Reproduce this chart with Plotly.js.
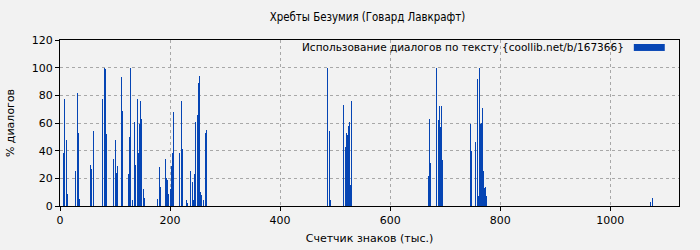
<!DOCTYPE html>
<html>
<head>
<meta charset="utf-8">
<script src="https://cdn.plot.ly/plotly-3.0.1.min.js"></script>
<style>html,body{margin:0;padding:0;background:#f2f2f2;}#chart{width:700px;height:250px;}</style>
</head>
<body>
<div id="chart"></div>
<script>
// Character counter positions (thousands of characters)
const positions = [5.5,7.3,9,11,12.7,14.5, 29,31,33,34.5,36, 56,58,60, 78,80,82,84,
  94.5,96.4,98,100,102,103.6, 111,113, 123.6,125.5,127,129,131,
  136,138,140,142,143.6,145.5,147,149,151,153, 178,180,182,
  189,191,193,195,196.4, 200,202,204,205.5, 218,220,222, 229,231,
  238,240,242,244,245.5,247,249,251,253,254.5,256,258,260, 263.6,265.5,
  485.5,487,489,491, 516,518,520,522,524,525.5,527.5,529,
  669,671,673, 683.6,685,687,689,691,693,694.5,
  745.5,747, 754.5,756,758,760,762,764,765.5,767,769,771,773,774.5,776, 1074,1076];
// Dialogue share (%)
const dialogPct = [38,77,27,48,41,9, 25,82,53,10,5, 30,27,54, 77,100,99,52,
  24,34,20,48,24,29, 93,69, 23,46,50,100,4,
  61,30,77,38,59,72,76,63,12,6, 5,28,14,
  64,34,20,19,9, 12,29,38,68, 38,76,41, 4,2,
  25,17,4,23,12,61,66,89,94,10,5,8,4, 53,55,
  25,100,54,4, 73,43,53,51,58,61,15,76,
  22,63,31, 4,100,62,72,57,72,33,
  59,40, 7,46,92,7,100,59,60,71,25,13,14,7,4, 3,6];
const seriesName = 'Использование диалогов по тексту {coollib.net/b/167366}';
const chartTitle = 'Хребты Безумия (Говард Лавкрафт)';
const xTitle = 'Счетчик знаков (тыс.)';
const yTitle = '% диалогов';

const font = {family: 'DejaVu Sans, sans-serif', size: 11, color: '#000'};
const titleFont = {family: 'DejaVu Sans Condensed, DejaVu Sans, sans-serif', size: 11.4, color: '#000'};
const legendFont = {family: 'DejaVu Sans, sans-serif', size: 10.5, color: '#000'};
const barColor = '#0645b4';

const trace = {
  type: 'bar', x: positions, y: dialogPct, name: seriesName,
  width: 1.8, marker: {color: barColor, line: {width: 0}}, showlegend: false
};

const axisCommon = {
  showline: true, linecolor: '#000', linewidth: 1, mirror: true,
  ticks: 'outside', ticklen: 4, tickcolor: '#000',
  showgrid: true, gridcolor: '#a8a8a8', griddash: '3px,3px', gridwidth: 1,
  zeroline: false, tickfont: font
};

const layout = {
  width: 700, height: 250,
  paper_bgcolor: '#f2f2f2', plot_bgcolor: '#f2f2f2',
  margin: {l: 60, r: 21, t: 40, b: 44},
  font: font,
  title: {text: chartTitle, font: titleFont, x: 0.525, xanchor: 'center', y: 0.93, yanchor: 'middle'},
  xaxis: Object.assign({}, axisCommon, {range: [0, 1125], dtick: 200, tick0: 0,
    title: {text: xTitle, font: font, standoff: 8}}),
  yaxis: Object.assign({}, axisCommon, {range: [0, 120], dtick: 20, tick0: 0,
    title: {text: yTitle, font: font, standoff: 14}}),
  bargap: 0,
  annotations: [{
    xref: 'paper', yref: 'paper', x: 0.914, y: 0.958, xanchor: 'right', yanchor: 'middle',
    text: seriesName, showarrow: false, font: legendFont
  }],
  shapes: [{
    type: 'rect', xref: 'paper', yref: 'paper', x0: 0.927, x1: 0.977, y0: 0.934, y1: 0.976,
    fillcolor: barColor, line: {width: 0}
  }]
};

Plotly.newPlot('chart', [trace], layout, {displayModeBar: false, staticPlot: true});
</script>
</body>
</html>
